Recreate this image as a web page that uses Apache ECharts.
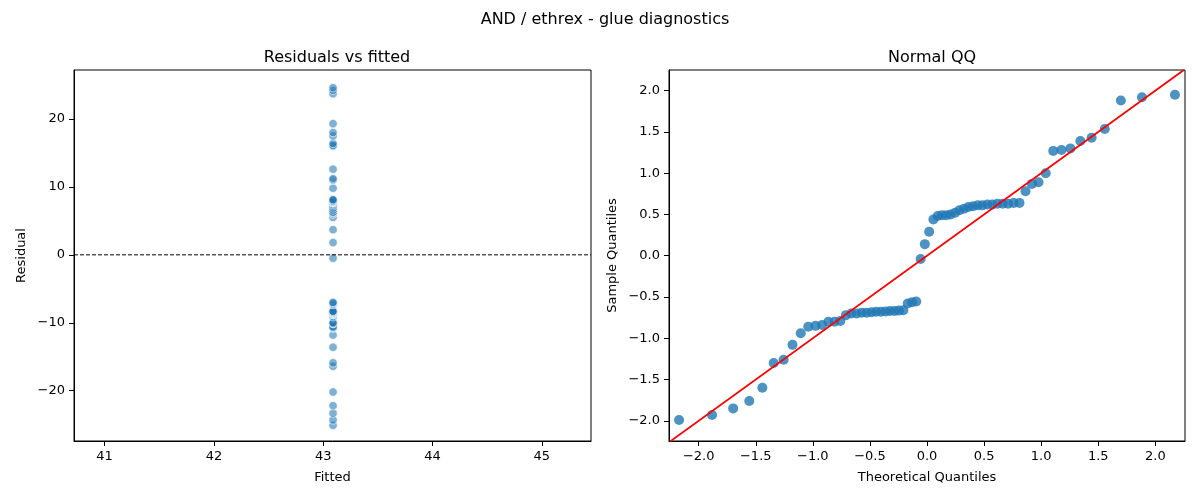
<!DOCTYPE html>
<html>
<head>
<meta charset="utf-8">
<script src="https://cdn.jsdelivr.net/npm/echarts@6/dist/echarts.min.js"></script>
<style>
  html, body { margin: 0; padding: 0; background: #fff; }
  #main { width: 1200px; height: 500px; }
</style>
</head>
<body>
<div id="main"></div>
<script>
// fitted value (all points share it) and residuals
const fitted = 43.09;
const residuals = [-25.1, -24.3, -23.3, -22.2, -20.2, -16.4, -15.9, -13.6, -11.8, -10.8, -10.7, -10.6,
  -10.1, -10.1, -10.0, -9.1, -8.8, -8.8, -8.7, -8.7, -8.6, -8.6, -8.6, -8.5, -8.4, -8.4, -8.4, -8.3,
  -7.3, -7.1, -7.0, -0.5, 1.8, 3.7, 5.5, 6.0, 6.2, 6.2, 6.3, 6.6, 6.9, 7.2, 7.4, 7.6, 7.7, 7.7,
  7.8, 7.8, 7.9, 7.9, 7.9, 8.1, 8.1, 9.8, 11.0, 11.2, 12.6, 16.0, 16.1, 16.4, 17.5, 18.0, 19.3,
  23.7, 24.2, 24.6];
const fittedRange = [40.72, 45.45];
const residualRange = [-27.4, 27.2];

// normal QQ: theoretical vs sample quantiles
const theoretical = [-2.172, -1.883, -1.698, -1.557, -1.442, -1.343, -1.256, -1.178, -1.106, -1.040,
  -0.977, -0.919, -0.863, -0.810, -0.759, -0.710, -0.663, -0.617, -0.573, -0.529, -0.486, -0.445,
  -0.404, -0.363, -0.324, -0.284, -0.246, -0.207, -0.169, -0.131, -0.094, -0.056, -0.019,
  0.019, 0.056, 0.094, 0.131, 0.169, 0.207, 0.246, 0.284, 0.324, 0.363, 0.404, 0.445, 0.486,
  0.529, 0.573, 0.617, 0.663, 0.710, 0.759, 0.810, 0.863, 0.919, 0.977, 1.040, 1.106, 1.178,
  1.256, 1.343, 1.442, 1.557, 1.698, 1.883, 2.172];
const sample = [-1.99, -1.93, -1.85, -1.76, -1.60, -1.30, -1.26, -1.08, -0.94, -0.86, -0.85, -0.84,
  -0.80, -0.80, -0.79, -0.72, -0.70, -0.70, -0.69, -0.69, -0.685, -0.68, -0.68, -0.675, -0.67, -0.67,
  -0.665, -0.66, -0.58, -0.565, -0.555, -0.04, 0.14, 0.29, 0.44, 0.48, 0.49, 0.49, 0.50, 0.52, 0.55,
  0.57, 0.59, 0.60, 0.61, 0.61, 0.62, 0.62, 0.63, 0.63, 0.63, 0.64, 0.64, 0.78, 0.87, 0.89, 1.00,
  1.27, 1.28, 1.30, 1.39, 1.43, 1.535, 1.88, 1.92, 1.95];
const lineEnds = [-2.25, 2.25];

// tick labels
const fittedTicks = [41, 42, 43, 44, 45];
const residualTicks = [-20, -10, 0, 10, 20];
const qqTicks = [-2.0, -1.5, -1.0, -0.5, 0.0, 0.5, 1.0, 1.5, 2.0];

const FONT = 'DejaVu Sans';
const LABEL_MARGIN = 9;
const minus = s => String(s).replace('-', '\u2212');

function axis(opts) {
  return Object.assign({
    type: 'value',
    nameLocation: 'middle',
    nameTextStyle: { fontFamily: FONT, fontSize: 13, color: '#000' },
    axisLine: { show: true, onZero: false, lineStyle: { color: '#000', width: 1 } },
    axisTick: { show: true, length: 5, lineStyle: { color: '#000' }, customValues: opts.ticks },
    axisLabel: {
      fontFamily: FONT, fontSize: 13, color: '#000', margin: LABEL_MARGIN,
      customValues: opts.labels || opts.ticks,
      formatter: v => minus(opts.dec ? v.toFixed(opts.dec) : v)
    },
    splitLine: { show: false }
  }, opts.extra);
}

// the middle fitted label gets dropped by the axis, so it is drawn separately below
const fittedMid = fittedTicks[2];

const chart = echarts.init(document.getElementById('main'));
chart.setOption({
  animation: false,
  title: [
    { text: 'AND / ethrex - glue diagnostics', left: 600, top: 7, textAlign: 'center',
      textStyle: { fontFamily: FONT, fontSize: 16, fontWeight: 'normal', color: '#000' } },
    { text: 'Residuals vs fitted', left: 332, top: 45, textAlign: 'center',
      textStyle: { fontFamily: FONT, fontSize: 16, fontWeight: 'normal', color: '#000' } },
    { text: 'Normal QQ', left: 927, top: 45, textAlign: 'center',
      textStyle: { fontFamily: FONT, fontSize: 16, fontWeight: 'normal', color: '#000' } }
  ],
  grid: [
    { left: 74, right: 609, top: 70, bottom: 59, show: true, borderColor: '#000', borderWidth: 1 },
    { left: 669, right: 15, top: 70, bottom: 59, show: true, borderColor: '#000', borderWidth: 1 }
  ],
  xAxis: [
    axis({ ticks: fittedTicks, labels: fittedTicks.filter(t => t !== fittedMid),
      extra: { gridIndex: 0, min: fittedRange[0], max: fittedRange[1], name: 'Fitted', nameGap: 30 } }),
    axis({ ticks: qqTicks, dec: 1, extra: { gridIndex: 1, min: -2.26, max: 2.26, name: 'Theoretical Quantiles', nameGap: 30 } })
  ],
  yAxis: [
    axis({ ticks: residualTicks, extra: { gridIndex: 0, min: residualRange[0], max: residualRange[1], name: 'Residual', nameGap: 46 } }),
    axis({ ticks: qqTicks, dec: 1, extra: { gridIndex: 1, min: -2.245, max: 2.25, name: 'Sample Quantiles', nameGap: 50 } })
  ],
  series: [
    {
      // dashed zero line
      type: 'line', xAxisIndex: 0, yAxisIndex: 0,
      symbol: 'none',
      lineStyle: { color: '#000', width: 1, type: [4, 2] },
      data: fittedRange.map(x => [x, 0])
    },
    {
      type: 'scatter', xAxisIndex: 0, yAxisIndex: 0,
      symbolSize: 8.5,
      itemStyle: { color: 'rgba(31,119,180,0.72)', borderColor: '#fff', borderWidth: 0.8 },
      data: residuals.map(r => [fitted, r])
    },
    {
      type: 'scatter', xAxisIndex: 1, yAxisIndex: 1,
      symbolSize: 10,
      itemStyle: { color: '#1f77b4' },
      data: theoretical.map((t, i) => [t, sample[i]])
    },
    {
      type: 'line', xAxisIndex: 1, yAxisIndex: 1,
      symbol: 'none',
      lineStyle: { color: '#ff0000', width: 1.8 },
      data: lineEnds.map(v => [v, v])
    }
  ]
});

const midX = chart.convertToPixel({ xAxisIndex: 0 }, fittedMid);
const axisY = chart.convertToPixel({ yAxisIndex: 0 }, residualRange[0]);
chart.setOption({
  graphic: [{
    type: 'text', x: midX, y: axisY + LABEL_MARGIN, silent: true,
    style: { text: String(fittedMid), fontFamily: FONT, fontSize: 13, fill: '#000',
      align: 'center', verticalAlign: 'top' }
  }]
});
</script>
</body>
</html>
